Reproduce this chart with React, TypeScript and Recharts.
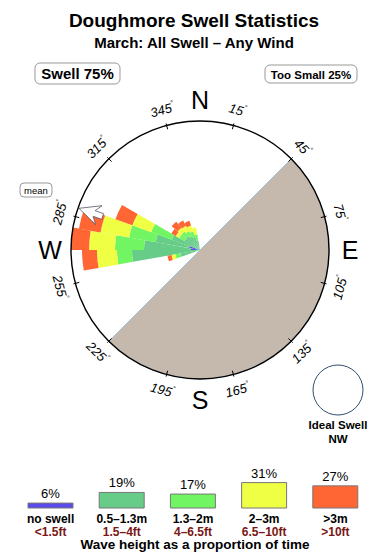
import { RadialBarChart, RadialBar, PolarAngleAxis, PolarRadiusAxis, PieChart, Pie, Cell, BarChart, Bar, XAxis, YAxis, LabelList } from 'recharts';

const FONT = '"Liberation Sans", Arial, Helvetica, sans-serif';
const CX = 200;
const CY = 250;
const R = 129;

// all 10° compass bins (bin centres)
const ALL_BINS = [5, 15, 25, 35, 45, 55, 65, 75, 85, 95, 105, 115, 125, 135, 145, 155, 165, 175,
  185, 195, 205, 215, 225, 235, 245, 255, 265, 275, 285, 295, 305, 315, 325, 335, 345, 355];

// bins that actually carry swell, and the radial share of each height band
const DIRS = [255, 265, 275, 285, 295, 305, 315, 325, 335, 345];
const NO_SWELL = [0, 0, 9, 11, 0, 0, 0, 0, 0, 0];
const H_05_13 = [20, 68, 47, 34, 30, 18, 18, 16, 14, 10];
const H_13_2 = [5, 15, 29, 27, 22, 6, 6, 6, 6, 6];
const H_2_3 = [4, 20, 26, 29, 20, 4, 5, 6, 6, 7];
const H_3_PLUS = [4, 15, 20, 22, 18, 5, 8, 6, 5, 0];

const TICK_DIRS = [15, 45, 75, 105, 135, 165, 195, 225, 255, 285, 315, 345];
const CARDINALS = [['N', 0], ['E', 90], ['S', 180], ['W', 270]] as const;
const MEAN_DIR = 289;

// land sector starts at 45° and runs clockwise
const LAND_SPLIT = [180, 180];

const LEGEND_BANDS = ['no swell', '0.5–1.3m', '1.3–2m', '2–3m', '>3m'];
const LEGEND_FEET = ['<1.5ft', '1.5–4ft', '4–6.5ft', '6.5–10ft', '>10ft'];
const LEGEND_PCT = [6, 19, 17, 31, 27];
const COLORS = ['#5b4bea', '#66cc88', '#72f562', '#eeff44', '#ff6633'];
const SERIES = ['none', 'h1', 'h2', 'h3', 'h4'];

const roseData = ALL_BINS.map((d) => {
  const i = DIRS.indexOf(d);
  const v = (arr: number[]) => (i >= 0 ? arr[i] : 0);
  return { dir: d, none: v(NO_SWELL), h1: v(H_05_13), h2: v(H_13_2), h3: v(H_2_3), h4: v(H_3_PLUS) };
});

const landData = LAND_SPLIT.map((value, i) => ({ name: i === 0 ? 'land' : 'sea', value }));

const legendData = LEGEND_BANDS.map((name, i) => ({ name, pct: LEGEND_PCT[i] }));

function polar(d: number, r: number) {
  const a = ((d - 90) * Math.PI) / 180;
  return [CX + r * Math.cos(a), CY + r * Math.sin(a)];
}

const AngleTick = (props: any) => {
  const d = props.payload?.value;
  if (!TICK_DIRS.includes(d)) return null;
  const [x1, y1] = polar(d, 125);
  const [x2, y2] = polar(d, 131);
  const [tx, ty] = polar(d, 145);
  const rot = d <= 90 ? d : d < 270 ? d - 180 : d - 360;
  return (
    <g>
      <line x1={x1} y1={y1} x2={x2} y2={y2} stroke="#000" strokeWidth={1} />
      <text
        x={tx}
        y={ty}
        transform={`rotate(${rot} ${tx} ${ty})`}
        textAnchor="middle"
        dominantBaseline="central"
        fontFamily={FONT}
        fontStyle="italic"
        fontSize={13}
        fill="#000"
      >
        {d}
        <tspan fontSize={7} dy={-5}>°</tspan>
      </text>
    </g>
  );
};

const LegendTick = (props: any) => {
  const { x, y, payload } = props;
  const i = LEGEND_BANDS.indexOf(payload.value);
  return (
    <g fontFamily={FONT} fontWeight="bold" fontSize={12} textAnchor="middle">
      <text x={x} y={y + 13} fill="#000">{LEGEND_BANDS[i]}</text>
      <text x={x} y={y + 25.5} fill="#7a1616">{LEGEND_FEET[i]}</text>
    </g>
  );
};

function MeanArrow() {
  const a = ((MEAN_DIR - 90) * Math.PI) / 180;
  const u = [Math.cos(a), Math.sin(a)];
  const v = [-u[1], u[0]];
  const pt = (r: number, s: number) => `${CX + r * u[0] + s * v[0]},${CY + r * u[1] + s * v[1]}`;
  const pts = [pt(128, 0), pt(107, 10), pt(112, 3), pt(103, 3), pt(103, -3), pt(112, -3), pt(107, -10)].join(' ');
  return <polygon points={pts} fill="#fff" stroke="#556" strokeWidth={0.8} />;
}

export default function App() {
  return (
    <div style={{ position: 'fixed', left: 0, top: 0, width: 390, height: 560, background: '#fff', fontFamily: FONT }}>
      <div style={{ position: 'absolute', left: 0, top: 0 }}>
        <PieChart width={390} height={560} margin={{ top: 0, right: 0, bottom: 0, left: 0 }}>
          <Pie
            data={landData}
            dataKey="value"
            cx={CX}
            cy={CY}
            innerRadius={0}
            outerRadius={R}
            startAngle={45}
            endAngle={-315}
            isAnimationActive={false}
          >
            <Cell fill="#c5b9ad" stroke="#a9c6e3" strokeWidth={1} />
            <Cell fill="none" stroke="none" />
          </Pie>
        </PieChart>
      </div>
      <div style={{ position: 'absolute', left: 0, top: 0 }}>
        {/* angles shifted by one bin: recharts places category bars one band ahead on a full circle */}
        <RadialBarChart
          width={390}
          height={560}
          cx={CX}
          cy={CY}
          innerRadius={0}
          outerRadius={R}
          startAngle={80}
          endAngle={-280}
          data={roseData}
          layout="centric"
          barCategoryGap={0}
          barGap={0}
          margin={{ top: 0, right: 0, bottom: 0, left: 0 }}
        >
          <PolarAngleAxis
            type="category"
            dataKey="dir"
            axisLineType="circle"
            axisLine={{ stroke: '#000', strokeWidth: 1.4 }}
            tickLine={false}
            tick={(p: any) => <AngleTick {...p} />}
          />
          <PolarRadiusAxis type="number" domain={[0, R]} allowDataOverflow tick={false} axisLine={false} />
          {SERIES.map((k, i) => (
            <RadialBar key={k} dataKey={k} stackId="h" fill={COLORS[i]} stroke="none" isAnimationActive={false} />
          ))}
        </RadialBarChart>
      </div>
      <svg width={390} height={560} style={{ position: 'absolute', left: 0, top: 0, pointerEvents: 'none' }}>
        <g fontFamily={FONT} fill="#000">
          <text x={194} y={27} textAnchor="middle" fontWeight="bold" fontSize={19}>Doughmore Swell Statistics</text>
          <text x={194} y={48} textAnchor="middle" fontWeight="bold" fontSize={15}>March: All Swell – Any Wind</text>
          <rect x={35} y={63} width={85} height={21} rx={5} fill="#fff" stroke="#999" />
          <text x={77.5} y={79} textAnchor="middle" fontWeight="bold" fontSize={15}>Swell 75%</text>
          <rect x={265} y={65} width={92} height={18} rx={5} fill="#fff" stroke="#999" />
          <text x={311} y={78.5} textAnchor="middle" fontWeight="bold" fontSize={11.5}>Too Small 25%</text>
          <rect x={20} y={183} width={32} height={14} rx={4} fill="#fff" stroke="#999" />
          <text x={36} y={193.5} textAnchor="middle" fontSize={9.5}>mean</text>
          {CARDINALS.map(([c, d]) => {
            const [x, y] = polar(d, 150);
            return (
              <text key={c} x={x} y={y} textAnchor="middle" dominantBaseline="central" fontSize={25}>{c}</text>
            );
          })}
          <circle cx={338} cy={390} r={25} fill="none" stroke="#2f4f6f" strokeWidth={1} />
          <text x={338} y={429} textAnchor="middle" fontWeight="bold" fontSize={11.5}>Ideal Swell</text>
          <text x={338} y={443} textAnchor="middle" fontWeight="bold" fontSize={11.5}>NW</text>
          <text x={195} y={549} textAnchor="middle" fontWeight="bold" fontSize={13.5}>Wave height as a proportion of time</text>
        </g>
        <MeanArrow />
      </svg>
      <div style={{ position: 'absolute', left: 0, top: 450 }}>
        <BarChart width={390} height={110} data={legendData} margin={{ top: 8, right: 19, left: 15, bottom: 0 }}>
          <XAxis dataKey="name" height={52} axisLine={false} tickLine={false} tickSize={0} interval={0} tick={(p: any) => <LegendTick {...p} />} />
          <YAxis hide domain={[0, 61]} />
          <Bar dataKey="pct" barSize={45} stroke="#777" strokeWidth={1} isAnimationActive={false}>
            {legendData.map((d, i) => (
              <Cell key={d.name} fill={COLORS[i]} />
            ))}
            <LabelList dataKey="pct" position="top" offset={5} formatter={(v: any) => `${v}%`} style={{ fontFamily: FONT, fontSize: 13, fill: '#000' }} />
          </Bar>
        </BarChart>
      </div>
    </div>
  );
}
